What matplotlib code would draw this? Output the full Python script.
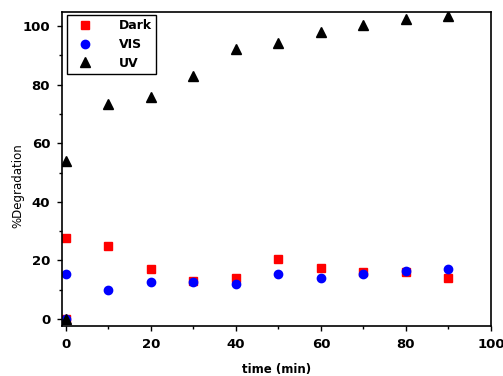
import matplotlib.pyplot as plt
from matplotlib.ticker import MultipleLocator

t = [0, 0, 10, 20, 30, 40, 50, 60, 70, 80, 90]
dark = [0, 27.5, 25, 17, 13, 14, 20.5, 17.5, 16, 16, 14]
vis = [0, 15.5, 10, 12.5, 12.5, 12, 15.5, 14, 15.5, 16.5, 17]
uv = [0, 54, 73.4, 75.8, 82.9, 92.2, 94.2, 98, 100.3, 102.4, 103.4]

fig = plt.figure(figsize=(5.03, 3.76), dpi=100)
ax = fig.add_axes([62 / 503, 1 - 326 / 376, (491 - 62) / 503, (326 - 12) / 376])

ax.plot(t, dark, 's', color='red', ms=5.5, label='Dark')
ax.plot(t, vis, 'o', color='blue', ms=6, label='VIS')
ax.plot(t, uv, '^', color='black', ms=7, label='UV')

ax.set_xlim(-0.9, 100)
ax.set_ylim(-2.4, 104.8)
ax.xaxis.set_major_locator(MultipleLocator(20))
ax.xaxis.set_minor_locator(MultipleLocator(10))
ax.yaxis.set_major_locator(MultipleLocator(20))
ax.yaxis.set_minor_locator(MultipleLocator(10))
ax.tick_params(which='major', direction='out', length=3.5, width=1, labelsize=9.5, pad=5)
ax.tick_params(which='minor', direction='out', length=2, width=1)
for lab in ax.get_xticklabels() + ax.get_yticklabels():
    lab.set_fontweight('bold')
for s in ax.spines.values():
    s.set_linewidth(1.2)

ax.set_ylabel('%Degradation', fontsize=8.5)
ax.yaxis.set_label_coords(-38 / 429, 140 / 314)
ax.set_xlabel('time (min)', fontsize=8.5, fontweight='bold')
ax.xaxis.set_label_coords(0.5, -37 / 314)

leg = ax.legend(loc='upper left', bbox_to_anchor=(5 / 429, 1 - 3 / 314), frameon=True, fancybox=False,
                edgecolor='black', framealpha=1, prop={'weight': 'bold', 'size': 9},
                handletextpad=1.6, borderpad=0.35, labelspacing=0.45, handlelength=2.2,
                borderaxespad=0)
leg.get_frame().set_linewidth(1)

fig.savefig('out.png', dpi=100)
